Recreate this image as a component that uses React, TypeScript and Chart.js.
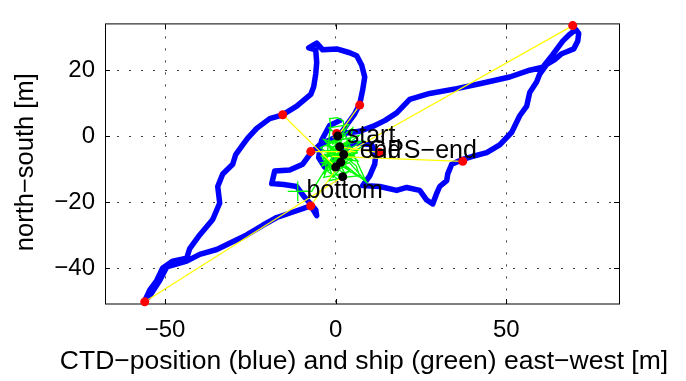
import React, { useEffect, useRef } from "react";
import { Chart, registerables } from "chart.js";

Chart.register(...registerables);

// Axis limits (MATLAB "axis equal" on the data) and ticks
const xLimits = [-67.6, 83.0];
const yLimits = [-50.8, 33.8];
const xTicks = [-50, 0, 50];
const yTicks = [-40, -20, 0, 20];
const xTitle = "CTD\u2212position (blue) and ship (green) east\u2212west [m]";
const yTitle = "north\u2212south [m]";

// CTD position track (blue), metres
const ctdX = [1.17, 3.52, 5.57, 7.03, 7.91, 8.5, 7.62, 6.15, 4.1, 0.29, -3.81, -5.57, -7.91, -5.86, -5.57, -5.86, -6.45, -7.32, -11.43, -15.53, -19.34, -23.15, -25.78, -27.25, -29.3, -30.18, -33.11, -34.57, -33.99, -36.04, -39.85, -42.78, -43.66, -47.76, -50.69, -52.45, -54.5, -55.96, -54.5, -51.57, -49.52, -45.71, -43.66, -39.85, -34.87, -30.18, -26.08, -21.39, -17.29, -11.43, -7.32, -5.57, -5.86, -9.38, -11.43, -15.24, -18.75, -17.87, -13.48, -9.67, -7.62, -4.69, -1.76, 2.64, 7.03, 10.84, 14.36, 17.87, 21.68, 27.54, 35.45, 42.19, 50.98, 56.84, 60.65, 63.58, 66.51, 68.56, 70.32, 71.2, 70.91, 69.73, 67.68, 66.22, 64.17, 61.82, 59.77, 58.89, 56.84, 55.96, 53.91, 51.57, 48.05, 44.24, 40.14, 37.21, 33.99, 32.82, 32.52, 30.47, 29.59, 28.42, 26.66, 24.61, 20.8, 17.87, 12.89, 7.91, 9.96, 11.43, 11.72, 10.55, 5.57, 2.64, -0.29, -3.22, -5.0, -4.5, -4.1, -1.76, 1.17];
const ctdY = [0.29, 3.81, 6.74, 9.68, 14.08, 17.89, 21.41, 24.34, 25.22, 26.39, 26.1, 28.15, 26.69, 26.1, 22.29, 18.77, 14.96, 12.61, 9.09, 6.45, 5.28, 2.35, -0.59, -2.64, -5.57, -8.5, -11.44, -15.25, -20.23, -25.22, -29.91, -34.02, -36.95, -37.83, -39.88, -43.7, -46.63, -49.85, -48.39, -43.7, -39.59, -38.42, -37.83, -35.78, -34.31, -31.96, -29.91, -26.98, -24.63, -22.58, -21.11, -24.05, -22.29, -18.18, -15.25, -14.66, -14.37, -10.56, -10.26, -8.5, -5.57, -2.64, -1.17, 0.88, 1.47, 2.93, 4.69, 7.04, 11.14, 12.9, 14.37, 15.84, 17.89, 19.94, 20.82, 24.63, 28.74, 30.79, 32.26, 31.09, 28.74, 26.39, 25.51, 24.93, 23.17, 21.7, 18.77, 16.42, 13.2, 9.09, 6.16, 1.17, -2.64, -4.99, -6.16, -7.04, -8.5, -11.44, -13.49, -15.25, -17.3, -20.53, -19.35, -16.42, -15.54, -16.42, -15.25, -14.96, -12.02, -8.5, -5.57, -2.64, -2.05, -4.11, -7.04, -9.4, -6.5, -3.0, -1.17, 3.23, 4.69];

// Ship track (green), metres
const shipX = [-11.13, -7.03, -3.0, -1.5, -1.8, 0.5, 2.2, 2.5, 0.2, -2.0, 3.8, 1.0, -3.0, 4.5, 6.8, 1.5, -3.8, 3.0, 6.5, -1.5, -4.0, 2.5, 8.7, 4.0, -2.5, 0.5, 3.5, -3.5, -1.0, 5.5, 7.8, 2.0, -3.5, 0.0, 4.8, -0.5, -4.2, 1.8, 6.0, 7.0, 2.5, -2.0, -0.5, 3.0, -2.5, 2.0, -1.0, 5.0, 3.5, -3.0, 1.0, 6.5, 0.0, -4.5, 2.5, 4.0, 0.5, -1.5, 3.5, -2.0, 1.0, -3.8, 2.8, -1.2, 4.2, -2.8, 1.5, 5.8, -0.8, -3.2, 3.2, 0.8, -4.0, 2.2, 7.2, 1.2, -2.2, 4.5, -0.2, -3.5, 2.6, 9.0, 3.0, -1.0, 0.3];
const shipY = [-16.72, -16.72, -10.0, 3.5, 5.3, 5.6, 4.6, 2.0, 0.6, 2.5, 3.5, -1.0, -2.0, -0.5, 0.2, -4.0, -4.5, -6.5, -5.0, -7.5, -8.0, -9.5, -13.5, -8.0, -10.5, -13.0, -11.0, -12.5, -6.0, -3.0, -1.5, -2.5, -1.0, -4.5, -7.0, -9.0, -6.0, -5.5, -9.0, -12.0, -12.5, -13.5, -11.0, -3.5, -3.0, 1.0, -2.5, 2.5, -5.0, -8.5, -7.0, -7.5, -1.5, -3.5, -8.5, -10.5, -12.0, -9.5, -1.5, -5.0, -3.0, -7.0, -11.5, -4.0, -6.0, -10.0, -2.0, -4.5, -12.5, -5.5, -8.0, -1.0, -9.0, -6.5, -3.5, -10.0, -2.5, -11.0, -6.8, -11.5, 0.5, -14.0, -9.0, -4.0, -6.0];

// Ship position at bottom (green +)
const shipBottomX = [-11.13];
const shipBottomY = [-16.72];

// CTD positions at marked times (red) and matching ship positions (yellow links)
const redX = [69.44, -15.53, 7.03, -7.32, 37.21, -7.32, -55.96, 12.9, 0.29];
const redY = [33.43, 6.45, 9.38, -4.69, -7.62, -21.11, -50.15, -4.99, 0.8];
const linkToX = [2.34, 0.0, 0.59, 5.86, -1.17, 1.46, 2.05, 1.17, -0.88];
const linkToY = [-5.57, -9.38, 0.0, -4.69, -6.16, -7.92, -12.32, -3.23, -0.59];

// Black dots
const blackX = [0.59, 1.17, 2.34, 1.46, 0.0, 2.05];
const blackY = [0.0, -3.23, -5.57, -7.92, -9.38, -12.32];

// Text annotations (left edge / baseline, metres)
const noteTexts = ["start", "end", "GPS\u2212end", "bottom"];
const noteX = [3.22, 7.03, 9.38, -8.58];
const noteY = [-2.14, -6.74, -6.74, -18.77];

const FONT = '"Liberation Sans", Arial, Helvetica, sans-serif';

const pts = (xs: number[], ys: number[]) => xs.map((x, i) => ({ x, y: ys[i] }));
const minus = (s: string) => s.replace(/-/g, "\u2212");

export default function App() {
  const ref = useRef<HTMLCanvasElement | null>(null);

  useEffect(() => {
    if (!ref.current) return;

    const framePlugin = {
      id: "frame",
      beforeDatasetsDraw(chart: any) {
        const { ctx, chartArea, scales } = chart;
        const { left, right, top, bottom } = chartArea;
        ctx.save();
        ctx.strokeStyle = "#000";
        ctx.lineWidth = 1;
        const tl = 5;
        ctx.beginPath();
        xTicks.forEach((v) => {
          const px = Math.round(scales.x.getPixelForValue(v)) + 0.5;
          ctx.moveTo(px, bottom);
          ctx.lineTo(px, bottom - tl);
          ctx.moveTo(px, top);
          ctx.lineTo(px, top + tl);
        });
        yTicks.forEach((v) => {
          const py = Math.round(scales.y.getPixelForValue(v)) + 0.5;
          ctx.moveTo(left, py);
          ctx.lineTo(left + tl, py);
          ctx.moveTo(right, py);
          ctx.lineTo(right - tl, py);
        });
        ctx.stroke();
        ctx.strokeRect(left + 0.5, top - 0.5, right - left, bottom - top + 0.5);
        ctx.restore();
      },
    };

    const textPlugin = {
      id: "notes",
      afterDatasetsDraw(chart: any) {
        const { ctx, scales } = chart;
        ctx.save();
        ctx.fillStyle = "#000";
        ctx.font = `25px ${FONT}`;
        ctx.textAlign = "left";
        ctx.textBaseline = "alphabetic";
        noteTexts.forEach((t, i) => {
          ctx.fillText(t, scales.x.getPixelForValue(noteX[i]), scales.y.getPixelForValue(noteY[i]));
        });
        ctx.restore();
      },
      afterDraw(chart: any) {
        const { ctx, chartArea } = chart;
        ctx.save();
        ctx.fillStyle = "#000";
        ctx.textBaseline = "alphabetic";
        ctx.textAlign = "center";
        ctx.font = `26.5px ${FONT}`;
        ctx.fillText(xTitle, (chartArea.left + chartArea.right) / 2 + 2, 369);
        ctx.translate(33, (chartArea.top + chartArea.bottom) / 2 - 2);
        ctx.rotate(-Math.PI / 2);
        ctx.font = `25.5px ${FONT}`;
        ctx.fillText(yTitle, 0, 0);
        ctx.restore();
      },
    };

    const linkSets = redX.map((rx, i) => ({
      data: [
        { x: rx, y: redY[i] },
        { x: linkToX[i], y: linkToY[i] },
      ],
      showLine: true,
      borderColor: "#ffff00",
      borderWidth: 1.2,
      pointRadius: 0,
      order: 3,
    }));

    const chart = new Chart(ref.current, {
      type: "scatter",
      data: {
        datasets: [
          {
            data: pts(ctdX, ctdY),
            showLine: true,
            borderColor: "#0000ff",
            borderWidth: 5.5,
            borderJoinStyle: "round",
            borderCapStyle: "round",
            pointRadius: 0,
            order: 6,
            clip: 4,
          },
          {
            data: pts(shipX, shipY),
            showLine: true,
            borderColor: "#00ff00",
            borderWidth: 1.3,
            pointRadius: 0,
            order: 5,
          },
          {
            data: pts(shipBottomX, shipBottomY),
            showLine: false,
            pointStyle: "cross",
            pointRadius: 10,
            pointBorderColor: "#00ff00",
            pointBorderWidth: 1.2,
            order: 5,
          },
          ...linkSets,
          {
            data: pts(redX, redY),
            showLine: false,
            pointRadius: 4.5,
            pointBackgroundColor: "#ff0000",
            pointBorderWidth: 0,
            order: 2,
            clip: false,
          },
          {
            data: pts(blackX, blackY),
            showLine: false,
            pointRadius: 4.5,
            pointBackgroundColor: "#000000",
            pointBorderWidth: 0,
            order: 1,
          },
        ] as any,
      },
      options: {
        responsive: false,
        animation: false,
        devicePixelRatio: 1,
        events: [],
        layout: { padding: { left: 0, right: 67, top: 16, bottom: 0 } },
        plugins: { legend: { display: false }, tooltip: { enabled: false } },
        scales: {
          x: {
            type: "linear",
            min: xLimits[0],
            max: xLimits[1],
            afterBuildTicks: (s: any) => {
              s.ticks = xTicks.map((v) => ({ value: v }));
            },
            afterFit: (s: any) => {
              s.height = 77;
            },
            grid: { color: "#404040", lineWidth: 1, drawTicks: false },
            border: { display: false, dash: [2, 10] },
            ticks: {
              padding: 12,
              color: "#000",
              font: { family: FONT, size: 24 },
              callback: (v: any) => minus(String(v)),
              maxRotation: 0,
            },
            title: { display: false },
          },
          y: {
            type: "linear",
            min: yLimits[0],
            max: yLimits[1],
            afterBuildTicks: (s: any) => {
              s.ticks = yTicks.map((v) => ({ value: v }));
            },
            afterFit: (s: any) => {
              s.width = 105;
            },
            grid: { color: "#404040", lineWidth: 1, drawTicks: false },
            border: { display: false, dash: [2, 10] },
            ticks: {
              padding: 10,
              color: "#000",
              font: { family: FONT, size: 24 },
              callback: (v: any) => minus(String(v)),
            },
            title: { display: false },
          },
        },
      } as any,
      plugins: [framePlugin, textPlugin],
    });

    return () => chart.destroy();
  }, []);

  return (
    <div style={{ position: "absolute", left: 0, top: 0, width: 686, height: 381, background: "#fff" }}>
      <canvas ref={ref} width={686} height={381} style={{ width: 686, height: 381, display: "block" }} />
    </div>
  );
}
